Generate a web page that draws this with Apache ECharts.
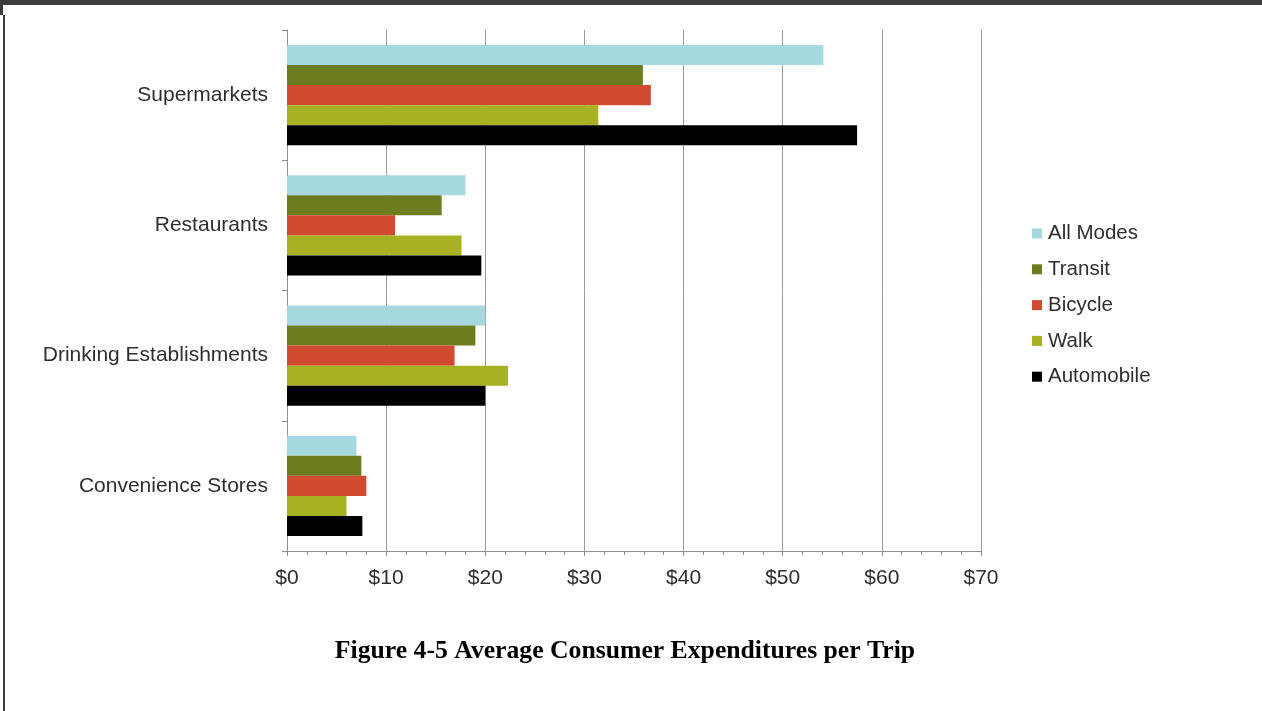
<!DOCTYPE html>
<html>
<head>
<meta charset="utf-8">
<script src="https://cdn.jsdelivr.net/npm/echarts@6/dist/echarts.min.js"></script>
<style>
  html, body { margin: 0; padding: 0; background: #ffffff; }
  #chart { width: 1262px; height: 711px; }
</style>
</head>
<body>
<div id="chart"></div>
<script>
// Store categories, top to bottom
const categories = ['Supermarkets', 'Restaurants', 'Drinking Establishments', 'Convenience Stores'];

// Average spend per trip (USD) by travel mode
const allModes   = [54.1, 18.0, 20.0, 7.0];
const transit    = [35.9, 15.6, 19.0, 7.5];
const bicycle    = [36.7, 10.9, 16.9, 8.0];
const walk       = [31.4, 17.6, 22.3, 6.0];
const automobile = [57.5, 19.6, 20.0, 7.6];

const modeNames = ['All Modes', 'Transit', 'Bicycle', 'Walk', 'Automobile'];
const modeValues = [allModes, transit, bicycle, walk, automobile];
const modeColors = ['#a6d9df', '#6b7d1e', '#d14b31', '#a8b122', '#000000'];

// Dollar axis ticks
const xMin = 0, xMax = 70, xStep = 10;

const labelFont = 'Liberation Sans, Arial, Helvetica, sans-serif';
const textColor = '#2e2e2e';
const axisGray = '#8e8e8e';

const chart = echarts.init(document.getElementById('chart'), null, { renderer: 'canvas' });

chart.setOption({
  animation: false,
  backgroundColor: '#ffffff',
  title: {
    text: 'Figure 4-5 Average Consumer Expenditures per Trip',
    left: 620,
    textAlign: 'center',
    top: 633,
    textStyle: {
      fontFamily: 'Liberation Serif, Times New Roman, serif',
      fontWeight: 'bold',
      fontSize: 25.7,
      color: '#000000'
    }
  },
  legend: {
    orient: 'vertical',
    left: 1027,
    top: 218,
    itemWidth: 10,
    itemHeight: 10,
    itemGap: 14.8,
    icon: 'rect',
    data: modeNames,
    textStyle: { fontFamily: labelFont, fontSize: 20.5, color: textColor, lineHeight: 20, padding: [0, 0, 0, 1] }
  },
  grid: { left: 287, right: 281, top: 30, bottom: 160, containLabel: false },
  xAxis: {
    type: 'value',
    min: xMin,
    max: xMax,
    interval: xStep,
    axisLine: { show: true, lineStyle: { color: axisGray, width: 1 } },
    axisTick: { show: true, length: 5, lineStyle: { color: axisGray } },
    minorTick: { show: true, splitNumber: 5, length: 4, lineStyle: { color: axisGray } },
    splitLine: { show: true, lineStyle: { color: '#9a9a9a', width: 1 } },
    axisLabel: {
      margin: 17,
      fontFamily: labelFont,
      fontSize: 21,
      color: textColor,
      formatter: v => '$' + v
    }
  },
  yAxis: {
    type: 'category',
    data: categories,
    inverse: true,
    axisLine: { show: true, lineStyle: { color: axisGray, width: 1 } },
    axisTick: { show: true, length: 5, lineStyle: { color: axisGray } },
    axisLabel: { margin: 19, fontFamily: labelFont, fontSize: 21, color: textColor }
  },
  series: modeNames.map((name, i) => ({
    name: name,
    type: 'bar',
    data: modeValues[i],
    barGap: '0%',
    barCategoryGap: '23%',
    itemStyle: { color: modeColors[i] }
  })),
  graphic: [
    { type: 'rect', shape: { x: 0, y: 0, width: 1262, height: 5 }, style: { fill: '#3d3d3d' }, silent: true },
    { type: 'rect', shape: { x: 0, y: 5, width: 3, height: 10 }, style: { fill: '#3d3d3d' }, silent: true },
    { type: 'rect', shape: { x: 3, y: 15, width: 2, height: 696 }, style: { fill: '#3d3d3d' }, silent: true }
  ]
});
</script>
</body>
</html>
